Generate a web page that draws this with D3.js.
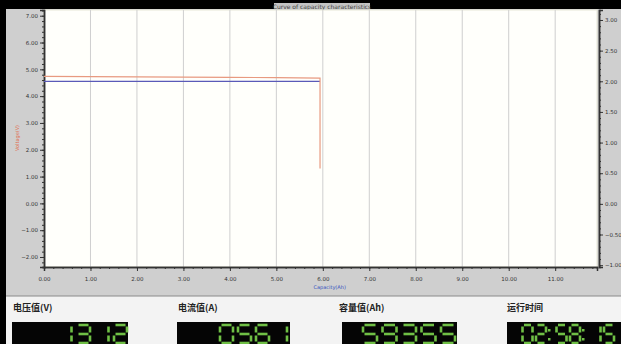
<!DOCTYPE html>
<html>
<head>
<meta charset="utf-8">
<script src="https://cdn.jsdelivr.net/npm/d3@7"></script>
<style>
  body { margin: 0; background: #000; }
  svg { display: block; }
</style>
</head>
<body>
<div class="chart"></div>
<script>
var svgWidth = 621;
var svgHeight = 344;

// Series
var capacity = [0, 1, 2, 3, 4, 5, 5.94, 5.94];
var voltage = [4.74, 4.73, 4.72, 4.71, 4.70, 4.69, 4.67, 1.30];
var currentCap = [0, 1, 2, 3, 4, 5, 5.94];
var current = [2.0, 2.0, 2.0, 2.0, 2.0, 2.0, 2.0];

var xTicks = [0, 1, 2, 3, 4, 5, 6, 7, 8, 9, 10, 11];
var leftTicks = [7, 6, 5, 4, 3, 2, 1, 0, -1, -2];
var rightTicks = [3, 2.5, 2, 1.5, 1, 0.5, 0, -0.5, -1];

// Readouts under the chart
var readoutLabels = ["电压值(V)", "电流值(A)", "容量值(Ah)", "运行时间"];
var readoutValues = ["1312", "0561", "59355", "02:58:15"];

var margin = { top: 10, right: 24, bottom: 77, left: 44 };
var width = svgWidth - margin.left - margin.right;
var height = svgHeight - margin.top - margin.bottom;

var svg = d3.select(".chart")
  .append("svg")
  .attr("width", svgWidth)
  .attr("height", svgHeight);

svg.append("rect").attr("width", svgWidth).attr("height", svgHeight).attr("fill", "#000");

// grey chart panel
svg.append("rect")
  .attr("x", 6).attr("y", 9)
  .attr("width", svgWidth - 6).attr("height", 287)
  .attr("fill", "#cfcfcf");

// light readout panel
svg.append("rect")
  .attr("x", 6).attr("y", 296)
  .attr("width", svgWidth - 6).attr("height", svgHeight - 296)
  .attr("fill", "#f3f3f3");
svg.append("line")
  .attr("x1", 6).attr("x2", svgWidth).attr("y1", 296).attr("y2", 296)
  .attr("stroke", "#8a8a8a");

// title
svg.append("rect").attr("x", 274).attr("y", 3).attr("width", 96).attr("height", 7).attr("fill", "#c4c4c4");
svg.append("text")
  .attr("x", 322).attr("y", 8.5)
  .attr("text-anchor", "middle")
  .style("font", "6px 'DejaVu Sans'")
  .attr("fill", "#444")
  .text("Curve of capacity characteristics");

var chart = svg.append("g")
  .attr("transform", "translate(" + margin.left + "," + margin.top + ")");

chart.append("rect")
  .attr("width", width).attr("height", height)
  .attr("fill", "#fffffb")
  .attr("stroke", "#e8e8d8");

var xScale = d3.scaleLinear().domain([0, 11.9]).range([0, width]);
var yLeft = d3.scaleLinear().domain([-2.373, 7.213]).range([height, 0]);
var yRight = d3.scaleLinear().domain([-1.03, 3.163]).range([height, 0]);

// vertical grid lines
chart.selectAll(".grid")
  .data(xTicks.slice(1))
  .enter()
  .append("line")
  .attr("class", "grid")
  .attr("x1", function(d) { return xScale(d); })
  .attr("x2", function(d) { return xScale(d); })
  .attr("y1", 0).attr("y2", height)
  .attr("stroke", "#cfcfcf")
  .attr("stroke-width", 1);

function styleAxis(g) {
  g.selectAll("text").style("font", "5.5px 'DejaVu Sans'").attr("fill", "#333");
  g.selectAll("line").attr("stroke", "#333");
  g.select(".domain").attr("stroke", "#333").attr("stroke-width", 1.5);
}

// minor ticks
var xMinor = d3.range(0, 11.9, 0.2);
var leftMinor = d3.range(-2.2, 7.21, 0.2);
var rightMinor = d3.range(-1, 3.16, 0.1);

chart.append("g")
  .attr("transform", "translate(0," + height + ")")
  .call(d3.axisBottom(xScale).tickValues(xMinor).tickSize(2).tickFormat(""))
  .call(styleAxis);
chart.append("g")
  .attr("class", "x-axis")
  .attr("transform", "translate(0," + height + ")")
  .call(d3.axisBottom(xScale).tickValues(xTicks).tickSize(4).tickPadding(6).tickFormat(d3.format(".2f")))
  .call(styleAxis);

chart.append("g")
  .call(d3.axisLeft(yLeft).tickValues(leftMinor).tickSize(2).tickFormat(""))
  .call(styleAxis);
chart.append("g")
  .attr("class", "y-axis")
  .call(d3.axisLeft(yLeft).tickValues(leftTicks).tickSize(4).tickPadding(2).tickFormat(d3.format(".2f")))
  .call(styleAxis);

chart.append("g")
  .attr("transform", "translate(" + (width + 2) + ",0)")
  .call(d3.axisRight(yRight).tickValues(rightMinor).tickSize(2).tickFormat(""))
  .call(styleAxis);
chart.append("g")
  .attr("transform", "translate(" + (width + 2) + ",0)")
  .call(d3.axisRight(yRight).tickValues(rightTicks).tickSize(4).tickPadding(2).tickFormat(d3.format(".2f")))
  .call(styleAxis);

// axis titles
chart.append("text")
  .attr("transform", "rotate(-90)")
  .attr("x", -(138 - margin.top))
  .attr("y", -25)
  .attr("text-anchor", "middle")
  .style("font", "5px 'DejaVu Sans'")
  .attr("fill", "#e07050")
  .text("Voltage(V)");

chart.append("text")
  .attr("x", xScale(5.8))
  .attr("y", height + 22)
  .style("font", "5px 'DejaVu Sans'")
  .attr("fill", "#3050c0")
  .text("Capacity(Ah)");

// series
var voltLine = d3.line()
  .x(function(d, i) { return xScale(capacity[i]); })
  .y(function(d) { return yLeft(d); });
var currLine = d3.line()
  .x(function(d, i) { return xScale(currentCap[i]); })
  .y(function(d) { return yRight(d); });

chart.append("path")
  .datum(current)
  .attr("d", currLine)
  .attr("fill", "none")
  .attr("stroke", "#5a5ab8")
  .attr("stroke-width", 1.2);

chart.append("path")
  .datum(voltage)
  .attr("d", voltLine)
  .attr("fill", "none")
  .attr("stroke", "#e89a80")
  .attr("stroke-width", 1.2);

// readout labels
var labelX = [13, 178, 339, 507];
svg.selectAll(".rlabel")
  .data(readoutLabels)
  .enter()
  .append("text")
  .attr("class", "rlabel")
  .attr("x", function(d, i) { return labelX[i]; })
  .attr("y", 311)
  .style("font", "bold 9px 'Noto Sans CJK SC'")
  .attr("fill", "#222")
  .text(function(d) { return d; });

// LCD boxes
var boxes = [
  { x: 12, w: 116, pitch: 18.5, dw: 13, right: 127 },
  { x: 177, w: 113, pitch: 18, dw: 13, right: 287 },
  { x: 342, w: 115, pitch: 19.5, dw: 14, right: 455 },
  { x: 507, w: 114, pitch: 13.5, dw: 10, right: 614 }
];

var segMap = {
  "0": "abcdef", "1": "bc", "2": "abdeg", "3": "abcdg", "4": "bcfg",
  "5": "acdfg", "6": "acdefg", "7": "abc", "8": "abcdefg", "9": "abcdfg"
};

function segLines(x, y, w, h) {
  var m = h / 2;
  return {
    a: [x + 1.5, y, x + w - 1.5, y],
    b: [x + w, y + 1.5, x + w, y + m - 1.5],
    c: [x + w, y + m + 1.5, x + w, y + h - 1.5],
    d: [x + 1.5, y + h, x + w - 1.5, y + h],
    e: [x, y + m + 1.5, x, y + h - 1.5],
    f: [x, y + 1.5, x, y + m - 1.5],
    g: [x + 1.5, y + m, x + w - 1.5, y + m]
  };
}

boxes.forEach(function(b, i) {
  svg.append("rect")
    .attr("x", b.x).attr("y", 322)
    .attr("width", b.w).attr("height", svgHeight - 322)
    .attr("fill", "#050505");

  var str = readoutValues[i];
  var g = svg.append("g");
  var colonW = 7;
  // lay out right to left
  var cx = b.right;
  var cells = [];
  for (var k = str.length - 1; k >= 0; k--) {
    var ch = str[k];
    if (ch === ":") {
      cx -= colonW;
      cells.push({ ch: ch, x: cx });
    } else {
      cells.push({ ch: ch, x: cx - b.dw });
      cx -= b.pitch;
    }
  }
  cells.forEach(function(c) {
    if (c.ch === ":") {
      g.append("rect").attr("x", c.x + 2).attr("y", 329).attr("width", 2.5).attr("height", 2.5).attr("fill", "#6fbf45");
      g.append("rect").attr("x", c.x + 2).attr("y", 338).attr("width", 2.5).attr("height", 2.5).attr("fill", "#6fbf45");
      return;
    }
    var segs = segLines(c.x, 325, b.dw, 18);
    segMap[c.ch].split("").forEach(function(s) {
      var p = segs[s];
      g.append("line")
        .attr("x1", p[0]).attr("y1", p[1]).attr("x2", p[2]).attr("y2", p[3])
        .attr("stroke", "#6fbf45")
        .attr("stroke-width", 2.6)
        .attr("stroke-linecap", "butt");
    });
  });
});
</script>
</body>
</html>
